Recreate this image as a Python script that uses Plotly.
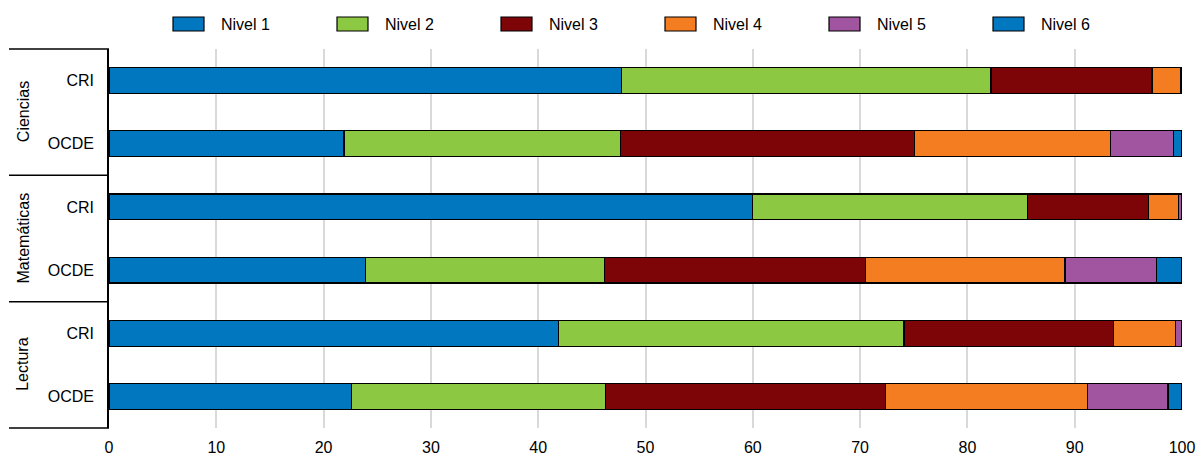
import plotly.graph_objects as go

# rows, top to bottom
rows = ["Ciencias CRI", "Ciencias OCDE", "Matemáticas CRI", "Matemáticas OCDE", "Lectura CRI", "Lectura OCDE"]
row_labels = ["CRI", "OCDE", "CRI", "OCDE", "CRI", "OCDE"]
groups = ["Ciencias", "Matemáticas", "Lectura"]

levels = ["Nivel 1", "Nivel 2", "Nivel 3", "Nivel 4", "Nivel 5", "Nivel 6"]
colors = ["#0077BE", "#8CC841", "#7D0508", "#F47D22", "#A154A0", "#0077BE"]

nivel1 = [47.8, 21.9, 60.0, 23.9, 41.9, 22.6]
nivel2 = [34.4, 25.8, 25.6, 22.3, 32.2, 23.7]
nivel3 = [15.0, 27.4, 11.3, 24.3, 19.5, 26.1]
nivel4 = [2.7, 18.2, 2.8, 18.6, 5.8, 18.8]
nivel5 = [0.1, 5.9, 0.3, 8.5, 0.6, 7.5]
nivel6 = [0.0, 0.8, 0.0, 2.4, 0.0, 1.3]
series = [nivel1, nivel2, nivel3, nivel4, nivel5, nivel6]

FONT = "Liberation Sans Narrow, Arial Narrow, Liberation Sans, Arial, sans-serif"

FW, FH = 1199, 464

# plot area in pixels
L, R, T, B = 109, 1182, 49, 428
W, H = R - L, B - T

def px_x(p):
    return (p - L) / W

def px_y(p):
    return (B - p) / H

fig = go.Figure()
for name, vals, col in zip(levels, series, colors):
    fig.add_bar(y=rows, x=vals, name=name, orientation="h",
                marker=dict(color=col, line=dict(color="black", width=1.2)),
                showlegend=False)

shapes = []
annotations = []

# hand made legend with wide boxes
for i, (name, col) in enumerate(zip(levels, colors)):
    x0 = 173 + 164 * i
    shapes.append(dict(type="rect", xref="paper", yref="paper",
                       x0=px_x(x0), x1=px_x(x0 + 31), y0=px_y(31), y1=px_y(17),
                       fillcolor=col, line=dict(color="black", width=1.2)))
    annotations.append(dict(text=name, xref="paper", yref="paper",
                            x=px_x(x0 + 46), y=px_y(24), xanchor="left", yanchor="middle",
                            showarrow=False, font=dict(size=16, color="black", family=FONT)))

# group dividers on the left
for yp in [T, T + H / 3, T + 2 * H / 3, B]:
    shapes.append(dict(type="line", xref="paper", yref="paper",
                       x0=px_x(9), x1=0, y0=px_y(yp), y1=px_y(yp),
                       line=dict(color="black", width=1.5)))

for i, g in enumerate(groups):
    annotations.append(dict(text=g, xref="paper", yref="paper",
                            x=px_x(23), y=1 - (i + 0.5) / 3, textangle=-90,
                            xanchor="center", yanchor="middle", showarrow=False,
                            font=dict(size=16, color="black", family=FONT)))

fig.update_layout(
    barmode="stack",
    bargap=0.59,
    width=FW, height=FH,
    margin=dict(l=L, r=FW - R, t=T, b=FH - B, autoexpand=False),
    plot_bgcolor="white", paper_bgcolor="white",
    font=dict(family=FONT, size=16, color="black"),
    shapes=shapes, annotations=annotations,
)
fig.update_xaxes(range=[0, 100], dtick=10, showgrid=True, gridcolor="#d9d9d9",
                 gridwidth=2, zeroline=False, showline=False, ticks="",
                 automargin=False, ticklabelstandoff=8,
                 tickfont=dict(size=16, family=FONT, color="black"))
fig.update_yaxes(autorange="reversed", tickvals=rows, ticktext=row_labels,
                 showline=True, linecolor="black", linewidth=1.5, showgrid=False,
                 ticks="", ticklabelstandoff=10, automargin=False,
                 tickfont=dict(size=16, family=FONT, color="black"))

# drop the default page margin so the figure sits at the window corner
fig.write_html("out.html", config={"displayModeBar": False},
               post_script="document.body.style.margin = '0';")
